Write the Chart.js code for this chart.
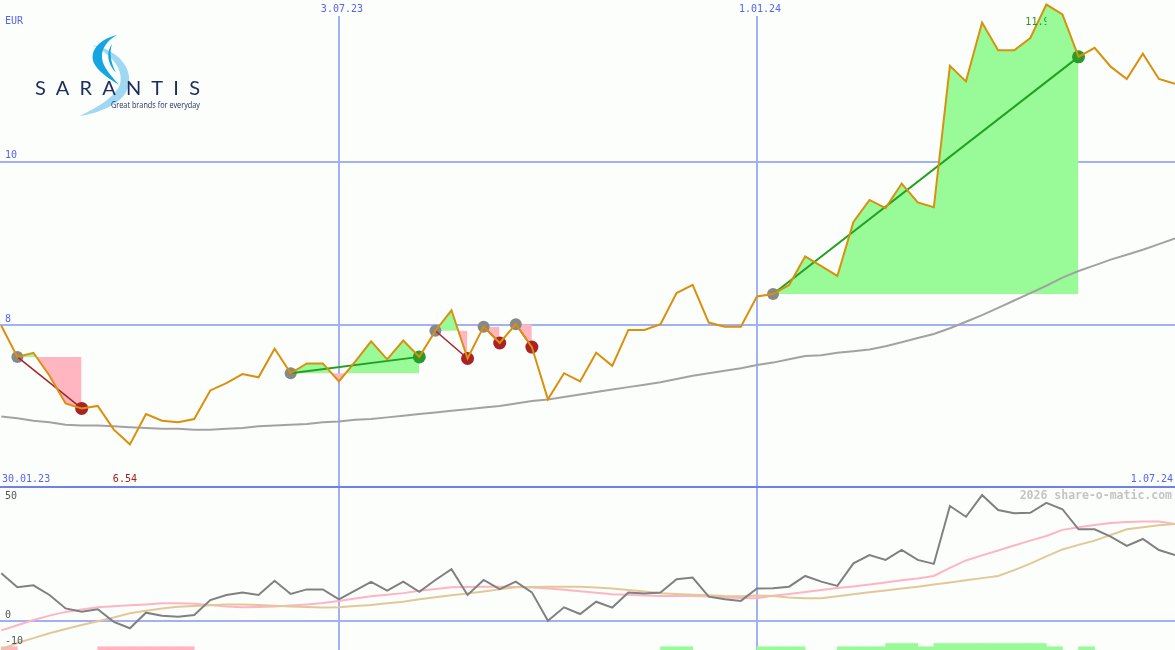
<!DOCTYPE html>
<html><head><meta charset="utf-8">
<script src="https://cdn.jsdelivr.net/npm/chart.js@4.4.1/dist/chart.umd.min.js"></script>
<style>
html,body{margin:0;padding:0;background:#fcfefc;overflow:hidden}
#wrap{position:relative;width:1175px;height:650px;background:#fcfefc}
#top{position:absolute;left:0;top:0}
#bot{position:absolute;left:0;top:484px}
#logo{position:absolute;left:0;top:0}
</style></head><body>
<div id="wrap">
<canvas id="top" width="1175" height="487"></canvas>
<canvas id="bot" width="1175" height="166"></canvas>
<svg id="logo" width="220" height="125" viewBox="0 0 220 125">
 <path d="M92,45 C118,50 134,68 128,88 C123,102 104,112 80,116 C100,106 116,96 120,84 C124,70 112,54 92,45 Z" fill="#9ed8f2"/>
 <path d="M117,35 C97,40 88,53 95,65 C100,73 110,79 119,85 C112,76 103,68 102,58 C101,48 108,40 117,35 Z" fill="#15a6e2"/>
 <path d="M112,44 C106,52 107,63 116,73 C111,63 109,53 112,44 Z" fill="#15a6e2"/>
 <text x="35" y="95" font-family="Lato, 'Open Sans', sans-serif" font-size="20" fill="#1d2b5f" textLength="165" lengthAdjust="spacing">SARANTIS</text>
 <text x="111" y="107.5" font-family="'Open Sans', sans-serif" font-size="8.5" fill="#1d2b5f" textLength="89" lengthAdjust="spacingAndGlyphs">Great brands for everyday</text>
</svg>
</div>
<script>
// ---------- data (weekly, index 0 .. 73) ----------
const price = [7.99, 7.61, 7.66, 7.38, 7.04, 6.98, 7.01, 6.72, 6.54, 6.91,
  6.83, 6.81, 6.85, 7.20, 7.29, 7.40, 7.36, 7.71, 7.41, 7.53,
  7.53, 7.31, 7.55, 7.80, 7.58, 7.81, 7.61, 7.93, 8.18, 7.59,
  7.98, 7.78, 8.01, 7.73, 7.09, 7.41, 7.31, 7.66, 7.50, 7.94,
  7.94, 8.01, 8.39, 8.49, 8.03, 7.98, 7.98, 8.35, 8.38, 8.49,
  8.84, 8.72, 8.60, 9.26, 9.53, 9.43, 9.73, 9.50, 9.44, 11.17,
  10.98, 11.70, 11.36, 11.36, 11.51, 11.92, 11.80, 11.28, 11.39, 11.16,
  11.01, 11.32, 11.01, 10.95];
const priceMA = [6.88, 6.86, 6.83, 6.81, 6.78, 6.77, 6.77, 6.76, 6.75, 6.74,
  6.73, 6.73, 6.72, 6.72, 6.73, 6.74, 6.76, 6.77, 6.78, 6.79,
  6.81, 6.82, 6.84, 6.85, 6.87, 6.89, 6.91, 6.93, 6.95, 6.97,
  6.99, 7.01, 7.04, 7.07, 7.09, 7.12, 7.15, 7.18, 7.21, 7.24,
  7.27, 7.30, 7.34, 7.38, 7.41, 7.44, 7.47, 7.51, 7.54, 7.58,
  7.62, 7.63, 7.66, 7.68, 7.70, 7.74, 7.79, 7.84, 7.89, 7.96,
  8.04, 8.12, 8.21, 8.30, 8.39, 8.48, 8.58, 8.66, 8.73, 8.80,
  8.86, 8.92, 8.99, 9.06];
const osc = [17.8, 12.6, 13.3, 9.7, 4.7, 3.5, 4.4, -0.3, -2.7, 3.1,
  2.0, 1.6, 2.2, 7.8, 9.7, 10.6, 9.7, 15.0, 10.1, 11.8,
  11.8, 8.1, 11.3, 14.6, 11.3, 14.7, 10.9, 15.3, 19.3, 9.7,
  15.3, 11.9, 14.7, 10.7, 0.1, 5.1, 2.6, 7.2, 5.0, 10.6,
  10.3, 10.6, 15.6, 16.2, 9.1, 8.1, 7.5, 12.1, 12.2, 12.8,
  16.8, 14.7, 13.1, 21.5, 24.6, 22.8, 26.5, 22.8, 21.3, 42.9,
  38.9, 47.0, 41.4, 40.2, 40.4, 44.1, 41.7, 34.2, 34.2, 31.5,
  28.0, 30.6, 26.5, 24.6];
const oscAvgFast = [-3.5, -1.6, 0.4, 2.0, 3.4, 4.3, 5.1, 5.5, 5.9, 6.2,
  6.6, 6.6, 6.4, 6.0, 5.4, 5.1, 5.2, 5.4, 5.8, 6.2,
  6.7, 7.5, 8.4, 9.2, 9.8, 10.4, 11.3, 11.9, 12.6, 12.7,
  12.8, 12.8, 12.7, 12.5, 12.1, 11.7, 11.1, 10.5, 10.0, 9.8,
  9.5, 9.3, 9.3, 9.3, 9.1, 8.8, 8.6, 8.5, 9.4, 10.1,
  10.8, 11.6, 12.3, 12.9, 13.6, 14.4, 15.2, 15.9, 16.8, 19.8,
  22.6, 24.5, 26.3, 28.2, 30.0, 31.7, 34.0, 35.0, 35.8, 36.6,
  36.9, 37.1, 37.1, 36.2];
const oscAvgSlow = [-10.6, -8.2, -6.4, -4.6, -3.0, -1.5, -0.1, 1.3, 2.9, 3.8,
  4.7, 5.3, 5.6, 5.9, 6.2, 6.2, 6.0, 5.7, 5.4, 5.2,
  5.0, 5.1, 5.6, 6.0, 6.6, 7.2, 8.1, 8.9, 9.6, 10.3,
  11.0, 11.8, 12.6, 12.7, 12.8, 12.8, 12.8, 12.5, 12.1, 11.6,
  11.0, 10.4, 10.1, 9.8, 9.6, 9.3, 9.2, 9.5, 9.3, 8.8,
  8.5, 8.5, 9.2, 10.0, 10.7, 11.4, 12.1, 12.8, 13.6, 14.4,
  15.2, 16.0, 16.8, 19.0, 21.4, 24.1, 26.7, 28.4, 30.0, 32.1,
  34.2, 35.0, 35.7, 36.2];
const tradeEntry = [1, 18, 27, 30, 32, 48];
const tradeExit  = [5, 26, 29, 31, 33, 67];
const greenSignalWeeks  = [41,42,47,48,49,52,53,54,55,56,57,58,59,60,61,62,63,64,65,67];
const greenSignalLevels = [1,1,1,1,1,1,1,1,2,2,1,2,2,2,2,2,2,2,1,1];
const pinkSignalWeeks  = [0,6,7,8,9,10,11];
const pinkSignalLevels = [1,1,1,1,1,1,1];
const dateTickWeeks  = [21, 47];
const dateTickLabels = ['3.07.23', '1.01.24'];
const rangeLabels = ['30.01.23', '1.07.24'];
const priceTicks = [10, 8];
const oscTicks = [50, 0, -10];
const oscGridTicks = [50, 0];
const currency = 'EUR';
const watermark = '2026 share-o-matic.com';

// ---------- styles ----------
const BG = '#fcfefc';
const BLUE = '#5862f0';
const GRID = '#a4b0f4';
const SEP = '#7080ea';
const FONT = '10px "DejaVu Sans Mono", monospace';
const X_MIN = -0.08, X_MAX = 73.0;

const pts = arr => arr.map((v, i) => ({x: i, y: v}));
function txt(ctx, s, x, y, color, align, font) {
  ctx.save(); ctx.font = font || FONT; ctx.fillStyle = color;
  ctx.textAlign = align || 'left'; ctx.textBaseline = 'middle';
  ctx.fillText(s, x, y); ctx.restore();
}
const xScale = () => ({
  type: 'linear', min: X_MIN, max: X_MAX, offset: false, bounds: 'data',
  ticks: {display: false}, border: {display: false},
  grid: {drawTicks: false, offset: false, color: GRID, lineWidth: 2},
  afterBuildTicks: a => { a.ticks = dateTickWeeks.map(v => ({value: v})); }
});

// ---------- top (price) chart ----------
const topDatasets = [];
topDatasets.push({label: 'price', data: pts(price), borderColor: '#d9900c', borderWidth: 2,
  pointRadius: 0, tension: 0, fill: false, order: 0});
tradeEntry.forEach((e, i) => {
  const x = tradeExit[i]; const win = price[x] > price[e];
  topDatasets.push({label: 'trade' + i, data: [{x: e, y: price[e]}, {x: x, y: price[x]}],
    borderColor: win ? '#23a023' : '#a3252a', borderWidth: win ? 2 : 1.5, pointRadius: 0, fill: false, order: 1});
});
topDatasets.push({label: 'exitsWin', showLine: false, fill: false, order: 2,
  data: tradeExit.filter((x, i) => price[x] > price[tradeEntry[i]]).map(x => ({x: x, y: price[x]})),
  pointRadius: 6.5, pointBackgroundColor: '#2a9a2a', pointBorderWidth: 0});
topDatasets.push({label: 'exitsLoss', showLine: false, fill: false, order: 2,
  data: tradeExit.filter((x, i) => price[x] <= price[tradeEntry[i]]).map(x => ({x: x, y: price[x]})),
  pointRadius: 6.5, pointBackgroundColor: '#aa2226', pointBorderWidth: 0});
topDatasets.push({label: 'entries', showLine: false, fill: false, order: 3,
  data: tradeEntry.map(e => ({x: e, y: price[e]})),
  pointRadius: 6, pointBackgroundColor: '#888888', pointBorderWidth: 0});
topDatasets.push({label: 'ma', data: pts(priceMA), borderColor: '#a2a2a2', borderWidth: 2,
  pointRadius: 0, fill: false, order: 4});
tradeEntry.forEach((e, i) => {
  const x = tradeExit[i];
  topDatasets.push({label: 'fill' + i, data: pts(price).slice(e, x + 1),
    borderColor: 'rgba(0,0,0,0)', borderWidth: 0, pointRadius: 0, order: 5,
    fill: {target: {value: price[e]}, above: '#98fb98', below: '#ffb6c1'}});
});

const topLabels = {
  id: 'topLabels',
  afterDraw(chart) {
    const {ctx, scales: {x, y}} = chart;
    // max label, cut at the peak week as in the original
    const maxV = Math.max(...price); const maxI = price.indexOf(maxV);
    const peakX = x.getPixelForValue(maxI);
    ctx.save(); ctx.beginPath(); ctx.rect(0, 0, peakX, 40); ctx.clip();
    txt(ctx, maxV.toFixed(2), peakX - 21, 22, '#2a962a', 'left');
    ctx.restore();

    txt(ctx, currency, 5, 21, BLUE);
    priceTicks.forEach(v => txt(ctx, String(v), 5, y.getPixelForValue(v) - 6, BLUE));
    dateTickWeeks.forEach((w, i) => {
      const cx = x.getPixelForValue(w) + 3;
      ctx.save(); ctx.font = FONT; const tw = ctx.measureText(dateTickLabels[i]).width;
      ctx.fillStyle = BG; ctx.fillRect(cx - tw / 2 - 2, 0, tw + 4, 16); ctx.restore();
      txt(ctx, dateTickLabels[i], cx, 9, BLUE, 'center');
    });
    txt(ctx, rangeLabels[0], 2, 479, BLUE);
    txt(ctx, rangeLabels[1], 1173, 479, BLUE, 'right');
    const minV = Math.min(...price); const minI = price.indexOf(minV);
    txt(ctx, minV.toFixed(2), x.getPixelForValue(minI) - 5, 479, '#a02020', 'center');
  }
};

new Chart(document.getElementById('top'), {
  type: 'line',
  data: {datasets: topDatasets},
  options: {
    responsive: false, animation: false, events: [],
    layout: {padding: 0, autoPadding: false},
    plugins: {legend: {display: false}, tooltip: {enabled: false}},
    scales: {
      x: xScale(),
      y: {min: 8 - 162 / 81.75, max: 8 + 325 / 81.75, bounds: 'data',
        ticks: {display: false}, border: {display: false},
        grid: {drawTicks: false, color: GRID, lineWidth: 2},
        afterBuildTicks: a => { a.ticks = priceTicks.map(v => ({value: v})); }}
    }
  },
  plugins: [topLabels]
});

// ---------- bottom (oscillator) chart ----------
const botLabels = {
  id: 'botLabels',
  afterDraw(chart) {
    const {ctx, scales: {y}, chartArea} = chart;
    oscTicks.forEach(v => {
      const py = Math.max(y.getPixelForValue(v) - 6, chartArea.top + 9);
      txt(ctx, String(v), 5, py, '#555555');
    });
    txt(ctx, watermark, 1172, chartArea.top + 9, '#c4c4c4', 'right', 'bold 11.5px "DejaVu Sans Mono", monospace');
  }
};

new Chart(document.getElementById('bot'), {
  type: 'line',
  data: {datasets: [
    {label: 'osc', data: pts(osc), borderColor: '#808080', borderWidth: 2, pointRadius: 0, fill: false, order: 0},
    {label: 'slow', data: pts(oscAvgSlow), borderColor: '#e2c898', borderWidth: 2, pointRadius: 0, fill: false, order: 1},
    {label: 'fast', data: pts(oscAvgFast), borderColor: '#ffb4c6', borderWidth: 2, pointRadius: 0, fill: false, order: 2},
    {type: 'bar', label: 'buy', yAxisID: 'ySig', grouped: false, barPercentage: 1, categoryPercentage: 1,
      backgroundColor: '#98fb98', borderWidth: 0, order: 3,
      data: greenSignalWeeks.map((w, i) => ({x: w + 0.5, y: greenSignalLevels[i]}))},
    {type: 'bar', label: 'sell', yAxisID: 'ySig', grouped: false, barPercentage: 1, categoryPercentage: 1,
      backgroundColor: '#ffb6c1', borderWidth: 0, order: 3,
      data: pinkSignalWeeks.map((w, i) => ({x: w + 0.5, y: pinkSignalLevels[i]}))}
  ]},
  options: {
    responsive: false, animation: false, events: [],
    layout: {padding: {top: 3, left: 0, right: 0, bottom: 0}, autoPadding: false},
    plugins: {legend: {display: false}, tooltip: {enabled: false}},
    scales: {
      x: xScale(),
      y: {min: -10.82, max: 50, bounds: 'data',
        ticks: {display: false}, border: {display: false},
        grid: {drawTicks: false, lineWidth: 2, color: c => (c.tick && c.tick.value === 50) ? SEP : GRID},
        afterBuildTicks: a => { a.ticks = oscGridTicks.map(v => ({value: v})); }},
      ySig: {display: false, min: 0, max: 50}
    }
  },
  plugins: [botLabels]
});
</script>
</body></html>
